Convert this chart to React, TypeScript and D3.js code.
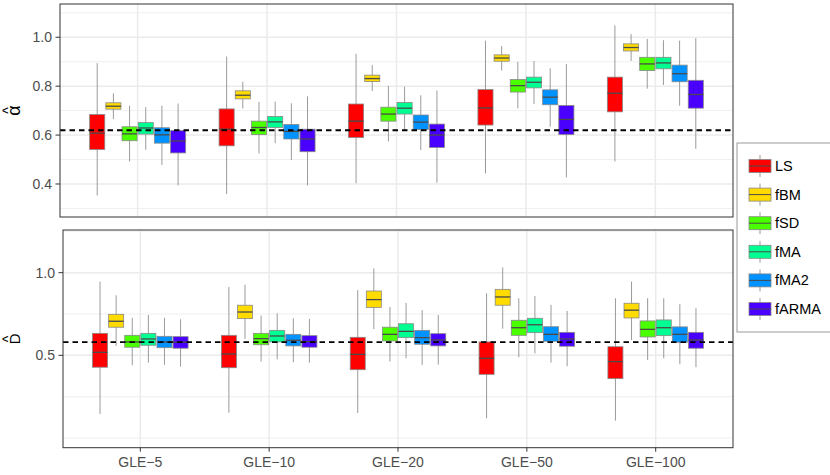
import React from "react";
import * as d3 from "d3";

const groups = ["GLE−5", "GLE−10", "GLE−20", "GLE−50", "GLE−100"];
const methods = ["LS", "fBM", "fSD", "fMA", "fMA2", "fARMA"];
const colors = ["#FF0000", "#FFDB00", "#49FF00", "#00FF92", "#0092FF", "#4900FF"];

// [lower whisker, q1, median, q3, upper whisker] per group
const alphaLS = [[0.353, 0.541, 0.608, 0.684, 0.894], [0.359, 0.556, 0.624, 0.707, 0.921], [0.403, 0.59, 0.657, 0.727, 0.932], [0.443, 0.641, 0.711, 0.786, 0.986], [0.492, 0.695, 0.771, 0.837, 1.049]];
const alphaFBM = [[0.665, 0.706, 0.718, 0.732, 0.771], [0.709, 0.748, 0.763, 0.781, 0.818], [0.78, 0.819, 0.831, 0.845, 0.886], [0.864, 0.902, 0.915, 0.928, 0.964], [0.903, 0.944, 0.958, 0.973, 1.013]];
const alphaFSD = [[0.492, 0.577, 0.605, 0.634, 0.72], [0.525, 0.602, 0.631, 0.657, 0.736], [0.574, 0.657, 0.686, 0.714, 0.801], [0.709, 0.776, 0.802, 0.827, 0.899], [0.79, 0.864, 0.891, 0.918, 0.993]];
const alphaFMA = [[0.54, 0.604, 0.629, 0.651, 0.714], [0.567, 0.631, 0.654, 0.676, 0.737], [0.622, 0.686, 0.71, 0.733, 0.798], [0.727, 0.793, 0.816, 0.837, 0.903], [0.805, 0.871, 0.895, 0.918, 0.988]];
const alphaFMA2 = [[0.478, 0.567, 0.601, 0.63, 0.72], [0.498, 0.584, 0.615, 0.643, 0.73], [0.539, 0.623, 0.653, 0.682, 0.763], [0.634, 0.724, 0.755, 0.785, 0.873], [0.72, 0.818, 0.851, 0.886, 0.986]];
const alphaFARMA = [[0.394, 0.527, 0.576, 0.618, 0.729], [0.394, 0.532, 0.584, 0.624, 0.758], [0.405, 0.549, 0.6, 0.645, 0.782], [0.427, 0.602, 0.664, 0.721, 0.891], [0.544, 0.71, 0.766, 0.824, 0.996]];

const dLS = [[0.145, 0.428, 0.518, 0.633, 0.946], [0.153, 0.425, 0.508, 0.621, 0.913], [0.151, 0.413, 0.506, 0.609, 0.895], [0.119, 0.385, 0.482, 0.581, 0.875], [0.105, 0.359, 0.462, 0.552, 0.845]];
const dFBM = [[0.557, 0.67, 0.706, 0.748, 0.863], [0.599, 0.722, 0.762, 0.803, 0.927], [0.659, 0.79, 0.837, 0.889, 1.026], [0.661, 0.803, 0.853, 0.899, 1.032], [0.593, 0.726, 0.773, 0.815, 0.946]];
const dFSD = [[0.44, 0.549, 0.581, 0.621, 0.726], [0.462, 0.564, 0.601, 0.633, 0.74], [0.462, 0.587, 0.627, 0.67, 0.792], [0.488, 0.621, 0.667, 0.712, 0.845], [0.472, 0.611, 0.657, 0.708, 0.845]];
const dFMA = [[0.456, 0.561, 0.599, 0.633, 0.744], [0.476, 0.581, 0.617, 0.651, 0.754], [0.482, 0.607, 0.645, 0.691, 0.817], [0.512, 0.637, 0.685, 0.724, 0.859], [0.482, 0.619, 0.667, 0.714, 0.845]];
const dFMA2 = [[0.443, 0.546, 0.581, 0.615, 0.726], [0.458, 0.557, 0.591, 0.627, 0.724], [0.442, 0.567, 0.607, 0.651, 0.774], [0.456, 0.585, 0.627, 0.673, 0.805], [0.446, 0.579, 0.627, 0.672, 0.809]];
const dFARMA = [[0.431, 0.543, 0.579, 0.613, 0.718], [0.456, 0.549, 0.583, 0.619, 0.72], [0.444, 0.557, 0.593, 0.631, 0.744], [0.434, 0.555, 0.599, 0.639, 0.768], [0.428, 0.543, 0.593, 0.639, 0.785]];

const alphaSeries = [alphaLS, alphaFBM, alphaFSD, alphaFMA, alphaFMA2, alphaFARMA];
const dSeries = [dLS, dFBM, dFSD, dFMA, dFMA2, dFARMA];

const alphaTicks = [0.4, 0.6, 0.8, 1.0];
const alphaMinor = [0.3, 0.5, 0.7, 0.9, 1.1];
const dTicks = [0.5, 1.0];
const dMinor = [0, 0.25, 0.75, 1.25];
const alphaRef = 0.62;
const dRef = 0.58;

const FONT = "'Liberation Sans', Arial, Helvetica, sans-serif";

type PanelProps = {
  left: number; right: number; top: number; bottom: number;
  domain: [number, number];
  series: number[][][];
  ticks: number[]; minor: number[]; refLine: number;
  showX: boolean; title: string; titleX: number; titleSize: number; hatOffset: number;
};

function Panel(p: PanelProps) {
  const x = d3.scaleLinear().domain([0.4, 5.6]).range([p.left, p.right]);
  const y = d3.scaleLinear().domain(p.domain).range([p.bottom, p.top]);
  const slot = 0.75 / 6;
  const bw = x(0.7 / 6) - x(0);
  const fmt = d3.format(".1f");
  const cy = (p.top + p.bottom) / 2;
  return (
    <g>
      <rect x={p.left} y={p.top} width={p.right - p.left} height={p.bottom - p.top} fill="#fff" />
      {p.minor.map((v) => (
        <line key={"mn" + v} x1={p.left} x2={p.right} y1={y(v)} y2={y(v)} stroke="#EBEBEB" strokeWidth={0.8} />
      ))}
      {p.ticks.map((v) => (
        <line key={"mj" + v} x1={p.left} x2={p.right} y1={y(v)} y2={y(v)} stroke="#EBEBEB" strokeWidth={1.5} />
      ))}
      {groups.map((g, i) => (
        <line key={"vg" + g} x1={x(i + 1)} x2={x(i + 1)} y1={p.top} y2={p.bottom} stroke="#EBEBEB" strokeWidth={1.5} />
      ))}
      {p.series.map((ser, j) =>
        ser.map((s, i) => {
          const cx = x(i + 1 + (j - 2.5) * slot);
          return (
            <g key={"b" + j + "-" + i}>
              <line x1={cx} x2={cx} y1={y(s[0])} y2={y(s[4])} stroke="#9a9a9a" strokeWidth={1} />
              <rect x={cx - bw / 2} y={y(s[3])} width={bw} height={y(s[1]) - y(s[3])} fill={colors[j]} stroke="#888" strokeWidth={0.8} />
              <line x1={cx - bw / 2} x2={cx + bw / 2} y1={y(s[2])} y2={y(s[2])} stroke="#4a4a4a" strokeWidth={1.3} />
            </g>
          );
        })
      )}
      <line x1={p.left} x2={p.right} y1={y(p.refLine)} y2={y(p.refLine)} stroke="#000" strokeWidth={1.9} strokeDasharray="5.5,4" />
      <rect x={p.left} y={p.top} width={p.right - p.left} height={p.bottom - p.top} fill="none" stroke="#333" strokeWidth={1} />
      {p.ticks.map((v) => (
        <g key={"t" + v}>
          <line x1={p.left - 4.5} x2={p.left} y1={y(v)} y2={y(v)} stroke="#333" strokeWidth={1} />
          <text x={p.left - 8} y={y(v)} dy="0.35em" textAnchor="end" fontSize={14} fill="#4D4D4D" fontFamily={FONT}>{fmt(v)}</text>
        </g>
      ))}
      {p.showX && groups.map((g, i) => (
        <g key={"xt" + g}>
          <line x1={x(i + 1)} x2={x(i + 1)} y1={p.bottom} y2={p.bottom + 4} stroke="#333" strokeWidth={1} />
          <text x={x(i + 1)} y={p.bottom + 19} textAnchor="middle" fontSize={14} fill="#4D4D4D" fontFamily={FONT}>{g}</text>
        </g>
      ))}
      <g transform={`translate(${p.titleX},${cy}) rotate(-90)`}>
        <text x={0} y={0} textAnchor="middle" fontSize={p.titleSize} fill="#000" fontFamily={FONT}>{p.title}</text>
        <text x={0} y={p.hatOffset} textAnchor="middle" fontSize={14} fill="#000" fontFamily={FONT}>^</text>
      </g>
    </g>
  );
}

export default function App() {
  return (
    <svg width={830} height={475} style={{ position: "absolute", left: 0, top: 0, background: "#fff" }}>
      <rect x={0} y={0} width={830} height={475} fill="#fff" />
      <Panel left={60} right={733} top={4} bottom={217} domain={[0.265, 1.136]} series={alphaSeries}
        ticks={alphaTicks} minor={alphaMinor} refLine={alphaRef} showX={false} title="α" titleX={20} titleSize={18} hatOffset={-7} />
      <Panel left={63} right={733} top={230} bottom={447.7} domain={[-0.0587, 1.258]} series={dSeries}
        ticks={dTicks} minor={dMinor} refLine={dRef} showX={true} title="D" titleX={20} titleSize={15} hatOffset={-7.5} />
      <g>
        <rect x={737} y={143} width={100} height={189} fill="#fff" stroke="#999" strokeWidth={1} />
        {methods.map((m, i) => {
          const cy = 166 + i * 28.6;
          return (
            <g key={m}>
              <line x1={760} x2={760} y1={cy - 11} y2={cy + 11} stroke="#9a9a9a" strokeWidth={1} />
              <rect x={749} y={cy - 6.5} width={22} height={13} fill={colors[i]} stroke="#888" strokeWidth={0.8} />
              <line x1={749} x2={771} y1={cy} y2={cy} stroke="#4a4a4a" strokeWidth={1} />
              <text x={775} y={cy} dy="0.35em" fontSize={14.5} fill="#000" fontFamily={FONT}>{m}</text>
            </g>
          );
        })}
      </g>
    </svg>
  );
}
